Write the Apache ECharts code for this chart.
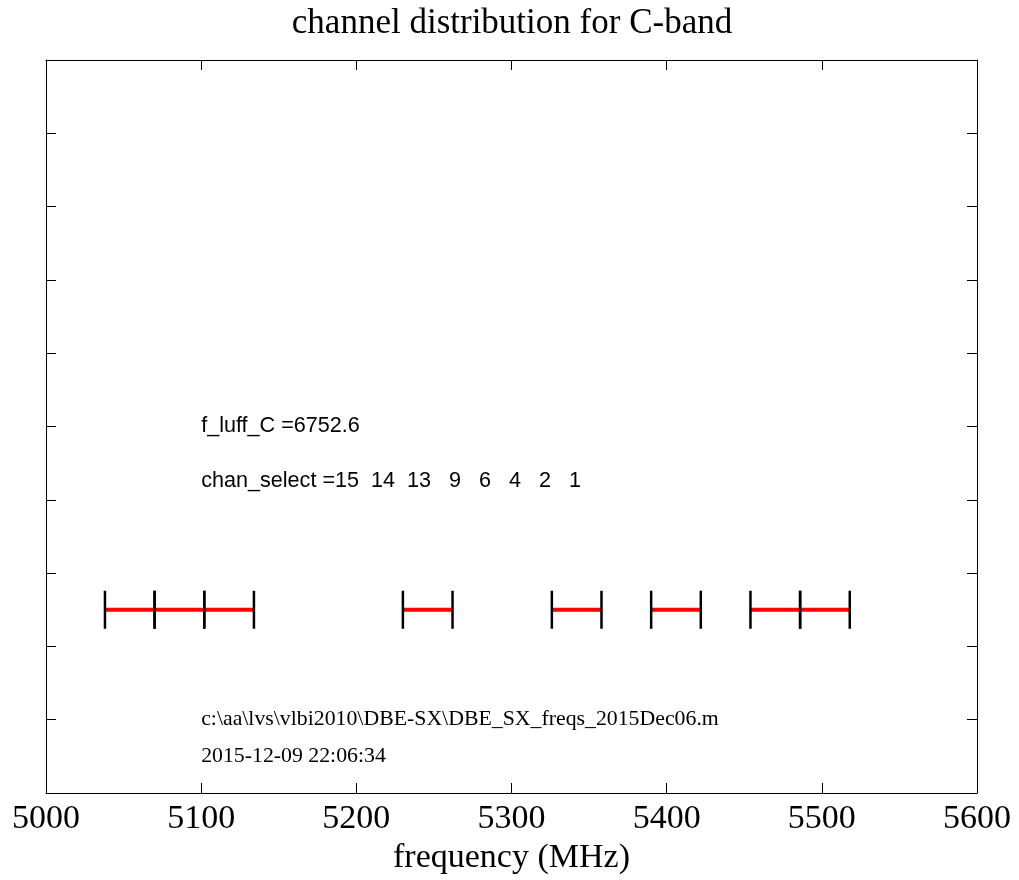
<!DOCTYPE html>
<html>
<head>
<meta charset="utf-8">
<title>channel distribution for C-band</title>
<script src="https://cdn.jsdelivr.net/npm/echarts@6/dist/echarts.min.js"></script>
<style>
  html, body { margin: 0; padding: 0; background: #fff; }
  #chart { width: 1019px; height: 880px; }
</style>
</head>
<body>
<div id="chart"></div>
<script>
// Selected channels and their band edges (MHz)
const chanSelect = [15, 14, 13, 9, 6, 4, 2, 1];
const chanLow  = [5038, 5070, 5102, 5230, 5326, 5390, 5454, 5486];
const chanHigh = [5070, 5102, 5134, 5262, 5358, 5422, 5486, 5518];
const chanLevel = 0.25;

// Axis ticks
const xTicks = [5000, 5100, 5200, 5300, 5400, 5500, 5600];

// Annotation text and anchor points (data coordinates)
const fLuff = 6752.6;
const fileName = 'c:\\aa\\lvs\\vlbi2010\\DBE-SX\\DBE_SX_freqs_2015Dec06.m';
const stamp = '2015-12-09 22:06:34';
const noteX = 5100;
const noteY = [0.5, 0.425, 0.1, 0.05];

const chanText = 'chan_select =' + chanSelect.map(n => String(n).padStart(2, ' ')).join('  ');
const sansNotes = [
  [noteX, noteY[0], 'f_luff_C =' + fLuff.toFixed(1)],
  [noteX, noteY[1], chanText]
];
const serifNotes = [
  [noteX, noteY[2], fileName],
  [noteX, noteY[3], stamp]
];

const segments = chanLow.map((lo, i) => [lo, chanHigh[i], chanLevel, chanSelect[i]]);

const chart = echarts.init(document.getElementById('chart'), null, { renderer: 'canvas' });

const serif = '"Liberation Serif", "Times New Roman", serif';
const sans = '"Liberation Sans", Arial, sans-serif';

const frameLine = { show: true, onZero: false, lineStyle: { color: '#000', width: 1 } };
const frameTick = { show: true, inside: true, length: 10, lineStyle: { color: '#000', width: 1 } };

const yAxisBase = {
  type: 'value', min: 0, max: 1, interval: 0.1,
  axisLine: frameLine,
  axisTick: frameTick,
  axisLabel: { show: false },
  splitLine: { show: false }
};

// Text-only series: anchor at a data point, label drawn to its right
function noteSeries(name, data, family, size) {
  return {
    type: 'scatter', name: name,
    symbolSize: 0, silent: true,
    itemStyle: { opacity: 1 },
    data: data,
    label: {
      show: true, position: 'right', distance: 0,
      formatter: p => p.data[2],
      fontFamily: family, fontSize: size, color: '#000', opacity: 1
    }
  };
}

chart.setOption({
  animation: false,
  backgroundColor: '#fff',
  title: {
    text: 'channel distribution for C-band',
    left: 507, top: 1, textAlign: 'center',
    textStyle: { fontFamily: serif, fontSize: 35, fontWeight: 'normal', color: '#000' }
  },
  grid: { left: 46, right: 42, top: 60, bottom: 87, containLabel: false },
  xAxis: [
    {
      type: 'value', min: xTicks[0], max: xTicks[xTicks.length - 1], interval: 100,
      position: 'bottom',
      name: 'frequency (MHz)', nameLocation: 'middle', nameGap: 48,
      nameTextStyle: { fontFamily: serif, fontSize: 34, color: '#000' },
      axisLine: frameLine,
      axisTick: frameTick,
      axisLabel: {
        show: true, margin: 9, fontFamily: serif, fontSize: 34, color: '#000',
        showMinLabel: true, showMaxLabel: true,
        formatter: v => String(v)
      },
      splitLine: { show: false }
    },
    {
      type: 'value', min: xTicks[0], max: xTicks[xTicks.length - 1], interval: 100,
      position: 'top',
      axisLine: frameLine,
      axisTick: frameTick,
      axisLabel: { show: false },
      splitLine: { show: false }
    }
  ],
  yAxis: [
    Object.assign({}, yAxisBase, { position: 'left' }),
    Object.assign({}, yAxisBase, { position: 'right' })
  ],
  series: [
    {
      type: 'custom',
      name: 'channels',
      xAxisIndex: 0, yAxisIndex: 0,
      data: segments,
      renderItem: function (params, api) {
        const p0 = api.coord([api.value(0), api.value(2)]);
        const p1 = api.coord([api.value(1), api.value(2)]);
        const h = 19;
        return {
          type: 'group',
          children: [
            { type: 'line', shape: { x1: p0[0], y1: p0[1], x2: p1[0], y2: p1[1] },
              style: { stroke: '#ff0000', lineWidth: 4 } },
            { type: 'line', shape: { x1: p0[0], y1: p0[1] - h, x2: p0[0], y2: p0[1] + h },
              style: { stroke: '#000', lineWidth: 2.5 } },
            { type: 'line', shape: { x1: p1[0], y1: p1[1] - h, x2: p1[0], y2: p1[1] + h },
              style: { stroke: '#000', lineWidth: 2.5 } }
          ]
        };
      }
    },
    noteSeries('notesSans', sansNotes, sans, 21.6),
    noteSeries('notesSerif', serifNotes, serif, 21.8)
  ]
});
</script>
</body>
</html>
